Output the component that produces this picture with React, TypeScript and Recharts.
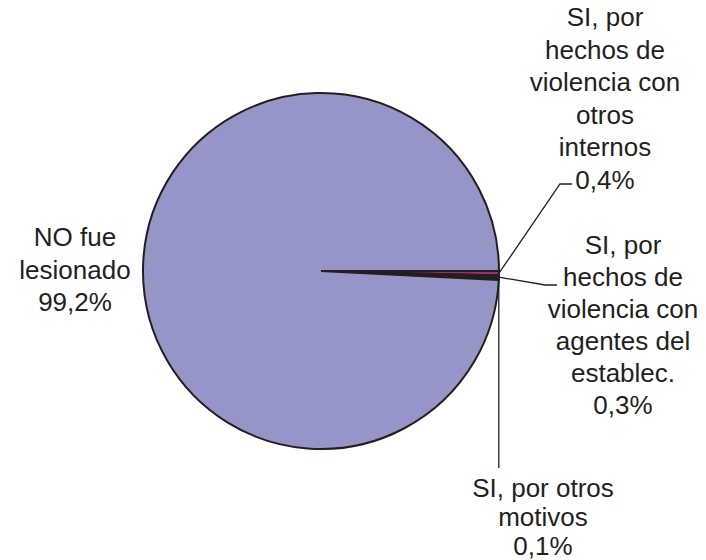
import { PieChart, Pie, Cell } from "recharts";

const categories = [
  "SI, por hechos de violencia con otros internos",
  "SI, por hechos de violencia con agentes del establec.",
  "SI, por otros motivos",
  "NO fue lesionado",
];
const shares = [0.4, 0.3, 0.1, 99.2];
const shareLabels = ["0,4%", "0,3%", "0,1%", "99,2%"];
const labelRows = [
  ["SI, por", "hechos de", "violencia con", "otros", "internos"],
  ["SI, por", "hechos de", "violencia con", "agentes del", "establec."],
  ["SI, por otros", "motivos"],
  ["NO fue", "lesionado"],
];

const COLORS = ["#993366", "#2a2224", "#231F20", "#9595C7"];
const INK = "#231F20";
const FONT = "'Liberation Sans', Arial, Helvetica, sans-serif";

const data = categories.map((name, i) => ({
  name,
  value: shares[i],
  rows: [...labelRows[i], shareLabels[i]],
}));

// label placement relative to the pie centre
const placement = [
  { dx: 284, dy: -254, gap: 32.5, leader: [[239, -87], [251, -87]] },
  { dx: 302, dy: -26, gap: 32, leader: [[224, 14], [236, 14]] },
  { dx: 222, dy: 217, gap: 29, leader: [["edge", 197]] },
  { dx: -246, dy: -34, gap: 32.5, leader: [] },
];

const RAD = Math.PI / 180;

function renderLabel(props: any) {
  const { cx, cy, outerRadius, midAngle, index } = props;
  const p = placement[index];
  const ex = cx + outerRadius * Math.cos(-midAngle * RAD);
  const ey = cy + outerRadius * Math.sin(-midAngle * RAD);
  let path = "";
  if (p.leader.length) {
    path = `M${ex},${ey}`;
    p.leader.forEach((pt: any) => {
      const x = pt[0] === "edge" ? ex : cx + pt[0];
      path += ` L${x},${cy + pt[1]}`;
    });
  }
  const rows: string[] = data[index].rows;
  return (
    <g key={`lbl-${index}`}>
      {path && <path d={path} stroke={INK} strokeWidth={1.3} fill="none" />}
      <text
        x={cx + p.dx}
        y={cy + p.dy}
        textAnchor="middle"
        fill={INK}
        fontFamily={FONT}
        fontSize={26}
      >
        {rows.map((r, j) => (
          <tspan key={j} x={cx + p.dx} y={cy + p.dy + j * p.gap} dominantBaseline="central">
            {r}
          </tspan>
        ))}
      </text>
    </g>
  );
}

export default function App() {
  return (
    <div style={{ position: "absolute", left: 0, top: 0, width: 706, height: 560, background: "#fff" }}>
      <PieChart width={706} height={560} margin={{ top: 0, right: 0, bottom: 0, left: 0 }}>
        <Pie
          data={data}
          dataKey="value"
          nameKey="name"
          cx={321}
          cy={271}
          outerRadius={178}
          startAngle={0}
          endAngle={-360}
          stroke={INK}
          strokeWidth={2}
          label={renderLabel}
          labelLine={false}
          isAnimationActive={false}
        >
          {data.map((_, i) => (
            <Cell key={i} fill={COLORS[i]} />
          ))}
        </Pie>
      </PieChart>
    </div>
  );
}
